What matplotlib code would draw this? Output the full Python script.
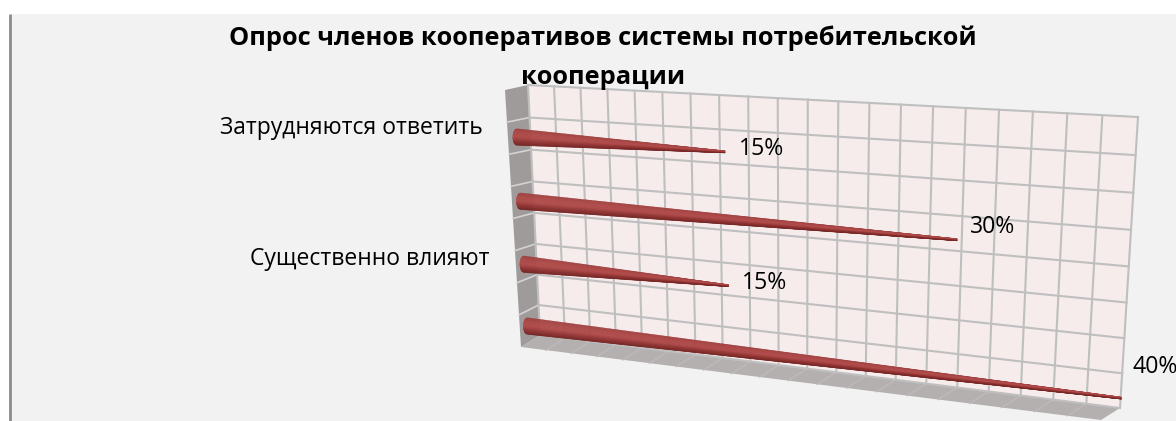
#!/usr/bin/env python3
import numpy as np
import matplotlib
matplotlib.use('Agg')
import matplotlib.pyplot as plt
from matplotlib.collections import PolyCollection
from matplotlib.colors import LinearSegmentedColormap
from matplotlib.patches import Polygon

plt.rcParams['font.family'] = ['Open Sans', 'DejaVu Sans']

# bottom to top, every second label is hidden in the original
categories = ['', 'Существенно влияют', '', 'Затрудняются ответить']
values = [40, 15, 30, 15]
value_labels = ['40%', '15%', '30%', '15%']
title = 'Опрос членов кооперативов системы потребительской\nкооперации'
grid_values = np.arange(0, 41, 2)
grid_levels = np.arange(0, 4.01, 0.5)


def homography(corners):
    # unit square (0,0) (1,0) (1,1) (0,1) -> four pixel corners
    src = [(0, 0), (1, 0), (1, 1), (0, 1)]
    a, b = [], []
    for (u, v), (x, y) in zip(src, corners):
        a.append([u, v, 1, 0, 0, 0, -u * x, -v * x])
        a.append([0, 0, 0, u, v, 1, -u * y, -v * y])
        b += [x, y]
    return np.append(np.linalg.solve(np.array(a, float), np.array(b, float)), 1).reshape(3, 3)


def project(h, value, level):
    p = h @ np.array([value / 40, level / 4, 1.0])
    return p[:2] / p[2]


# back wall: (0%,bottom) (40%,bottom) (40%,top) (0%,top)
wall = homography([(540, 335), (1120, 408), (1138, 117), (528, 85)])
# plane the cones lie in, a bit in front of the wall
cones = homography([(529, 356.5), (1120, 433), (1130, 143), (515, 104.5)])
front_bl, front_tl = np.array((521, 347)), np.array((505, 90))
depth = front_bl - np.array((540, 335))

fig = plt.figure(figsize=(11.76, 4.21), dpi=100, facecolor='white')
ax = fig.add_axes([0, 0, 1, 1])
ax.set_xlim(0, 1176)
ax.set_ylim(421, 0)
ax.axis('off')

# panel
ax.add_patch(Polygon([(11, 14), (1176, 14), (1176, 421), (11, 421)], fc='#F2F2F2', ec='none'))
ax.plot([10, 10], [14, 421], color='#8C8C8C', lw=2, solid_capstyle='butt')

# side wall and floor
bl, tl = project(wall, 0, 0), project(wall, 0, 4)
br = project(wall, 40, 0)
ax.add_patch(Polygon([front_tl, tl, bl, front_bl], fc='#9F9B9B', ec='none', zorder=1))
ax.add_patch(Polygon([front_bl, bl, br, br + depth], fc='#B5B0B0', ec='none', zorder=1))
for lev in grid_levels[1:-1]:
    p = project(wall, 0, lev)
    q = front_bl + (front_tl - front_bl) * lev / 4
    ax.plot([p[0], q[0]], [p[1], q[1]], color='#D4D2D2', lw=1.2, zorder=1.5)
for val in grid_values[1:-1]:
    p = project(wall, val, 0)
    ax.plot([p[0], p[0] + depth[0]], [p[1], p[1] + depth[1]], color='#BEBABA', lw=1, zorder=1.5)

# back wall with grid
ax.add_patch(Polygon([bl, br, project(wall, 40, 4), tl], fc='#F6ECEC', ec='none', zorder=2))
for val in grid_values:
    pts = np.array([project(wall, val, 0), project(wall, val, 4)])
    ax.plot(pts[:, 0], pts[:, 1], color='#BFBFBF', lw=1.5, zorder=3)
for lev in grid_levels:
    pts = np.array([project(wall, 0, lev), project(wall, 40, lev)])
    ax.plot(pts[:, 0], pts[:, 1], color='#BFBFBF', lw=1.5, zorder=3)

# cones, shaded with thin strips across the width (top of the screen first)
shade = LinearSegmentedColormap.from_list(
    'cone', ['#A04140', '#AE4A49', '#B04B4A', '#933534', '#772726'])
label_dx = [11, 14, 13, 14]
label_dy = [-31, -3, -13, -3]
for i, (val, txt, dx, dy) in enumerate(zip(values, value_labels, label_dx, label_dy)):
    level = i + 0.5
    base = project(cones, 0, level)
    tip = project(cones, val, level)
    polys, cols = [], []
    n = 24
    for k in range(n):
        t0, t1 = -1 + 2 * k / n, -1 + 2 * (k + 1) / n
        # round off the thick end
        r0, r1 = 4 * np.sqrt(1 - t0 ** 2), 4 * np.sqrt(1 - t1 ** 2)
        polys.append([base + (-r0, 8.3 * t0), base + (-r1, 8.3 * t1),
                      tip + (0, 1.1 * t1), tip + (0, 1.1 * t0)])
        cols.append(shade(k / (n - 1)))
    ax.add_collection(PolyCollection(polys, facecolors=cols, edgecolors=cols, lw=0.3, zorder=4))
    ax.text(tip[0] + dx, tip[1] + dy, txt, ha='left', va='center', fontsize=16.6,
            color='black', zorder=6)

# category labels, only the ones that are not blank
cat_dy = [0, -5.5, 0, -9]
for i, cat in enumerate(categories):
    if cat:
        p = project(cones, 0, i + 0.5)
        ax.text(p[0] - 34, p[1] + cat_dy[i], cat, ha='right', va='center', fontsize=16.5,
                color='black', zorder=6)

ax.text(603, 58, title, ha='center', va='center', fontsize=18.3, fontweight='bold',
        linespacing=1.76, color='black', zorder=7)

fig.savefig('out.png', dpi=100, facecolor='white')
plt.close(fig)
